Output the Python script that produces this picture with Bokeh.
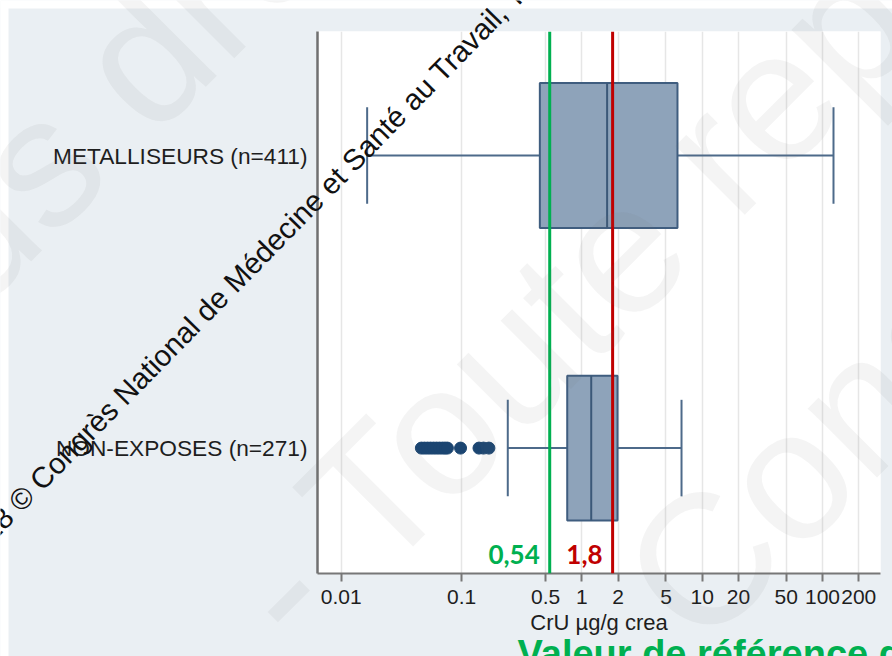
import math
from bokeh.plotting import figure
from bokeh.models import Range1d, FixedTicker, Span, Label, ColumnDataSource, BoxAnnotation
from bokeh.embed import file_html
from bokeh.resources import INLINE

# ---------------- data ----------------
categories = ["METALLISEURS (n=411)", "NON-EXPOSES (n=271)"]
q1 = [0.447, 0.755]
median = [1.62, 1.195]
q3 = [6.23, 1.977]
whisker_low = [0.0164, 0.242]
whisker_high = [123.4, 6.73]
outliers_non_exposes = [0.0463, 0.0491, 0.0521, 0.0552, 0.0585, 0.0619, 0.0655,
                        0.0694, 0.0728, 0.0762, 0.098, 0.1395, 0.152, 0.1686]
reference_values = [0.54, 1.8]
reference_labels = ["0,54", "1,8"]
x_ticks = [0.01, 0.1, 0.5, 1, 2, 5, 10, 20, 50, 100, 200]
x_tick_labels = ["0.01", "0.1", "0.5", "1", "2", "5", "10", "20", "50", "100", "200"]
axis_title = "CrU µg/g crea"
bottom_title = "Valeur de référence de la population générale"
watermark = "2018 © Congrès National de Médecine et Santé au Travail, Tous droits réservés"
big_watermark = ["Tous droits réservés", "- Toute reproduction interdite", "Congrès National"]

W, H = 892, 656
FONT = "Liberation Sans"

# ---------------- main chart ----------------
ypos = [len(categories) - i for i in range(len(categories))]   # 2, 1
box_half = 0.2475
cap_half = 0.165

p = figure(width=W, height=H, x_axis_type="log",
           x_range=Range1d(0.006341, 303.4), y_range=Range1d(0.5714, 2.4238),
           output_backend="svg", toolbar_location=None,
           min_border_left=317, min_border_right=12, min_border_top=31, min_border_bottom=83)
p.background_fill_color = "white"
p.border_fill_color = "#EAEFF3"
p.outline_line_color = None

xa = p.xaxis[0]
xa.ticker = FixedTicker(ticks=x_ticks)
xa.major_label_overrides = {t: l for t, l in zip(x_ticks, x_tick_labels)}
xa.minor_tick_line_color = None
xa.major_tick_in = 0
xa.major_tick_out = 8
xa.major_tick_line_color = "#777777"
xa.major_tick_line_width = 2
xa.axis_line_color = "#777777"
xa.axis_line_width = 2
xa.major_label_text_font = FONT
xa.major_label_text_font_size = "21px"
xa.major_label_text_color = "#1E1E1E"
xa.major_label_standoff = 8
xa.axis_label = axis_title
xa.axis_label_text_font = FONT
xa.axis_label_text_font_style = "normal"
xa.axis_label_text_font_size = "22px"
xa.axis_label_text_color = "#1E1E1E"
xa.axis_label_standoff = 3

ya = p.yaxis[0]
ya.ticker = FixedTicker(ticks=ypos)
ya.major_label_overrides = {y: c for y, c in zip(ypos, categories)}
ya.major_tick_line_color = None
ya.minor_tick_line_color = None
ya.major_tick_out = 0
ya.major_tick_in = 0
ya.axis_line_color = "#707070"
ya.axis_line_width = 2.5
ya.major_label_standoff = 10
ya.major_label_text_font = FONT
ya.major_label_text_font_size = "22.7px"
ya.major_label_text_color = "#1E1E1E"

p.xgrid.grid_line_color = "#E6E6E6"
p.xgrid.grid_line_width = 1.5
p.ygrid.grid_line_color = None

src = ColumnDataSource(dict(
    y=ypos, q1=q1, q3=q3, med=median, wlo=whisker_low, whi=whisker_high,
    ylo=[y - box_half for y in ypos], yhi=[y + box_half for y in ypos],
    clo=[y - cap_half for y in ypos], chi=[y + cap_half for y in ypos],
))

wcol = "#4D6A8A"
p.segment(x0="wlo", x1="q1", y0="y", y1="y", line_color=wcol, line_width=2, source=src)
p.segment(x0="q3", x1="whi", y0="y", y1="y", line_color=wcol, line_width=2, source=src)
p.segment(x0="wlo", x1="wlo", y0="clo", y1="chi", line_color=wcol, line_width=2, source=src)
p.segment(x0="whi", x1="whi", y0="clo", y1="chi", line_color=wcol, line_width=2, source=src)
p.hbar(y="y", height=2 * box_half, left="q1", right="q3", fill_color="#8EA3BA",
       line_color="#3F5D7F", line_width=2, source=src)
p.segment(x0="med", x1="med", y0="ylo", y1="yhi", line_color="#3B5878", line_width=2, source=src)

p.scatter(x=outliers_non_exposes, y=[ypos[1]] * len(outliers_non_exposes), size=12,
          fill_color="#1B4571", line_color="#1B4571")

ref_colors = ["#00B050", "#C00000"]
for v, lab, c in zip(reference_values, reference_labels, ref_colors):
    p.add_layout(Span(location=v, dimension="height", line_color=c, line_width=3))
    p.add_layout(Label(x=v, y=0.6056, x_offset=-10, y_offset=9, text=lab, text_align="right",
                       text_baseline="alphabetic", text_font="Lato", text_font_style="bold",
                       text_font_size="26px", text_color=c))

# ---------------- transparent overlay (page-pixel coordinates) ----------------
ov = figure(width=W, height=H, x_range=Range1d(0, W), y_range=Range1d(H, 0),
            output_backend="svg", toolbar_location=None,
            x_axis_location=None, y_axis_location=None,
            min_border_left=0, min_border_right=0, min_border_top=0, min_border_bottom=0)
ov.xgrid.visible = False
ov.ygrid.visible = False
ov.outline_line_color = None
ov.background_fill_alpha = 0
ov.border_fill_alpha = 0
ov.styles = {"position": "absolute", "top": "0px", "left": "0px", "z-index": "5"}

# white page margin (top and left) around the gray chart background
ov.add_layout(BoxAnnotation(left=0, right=W, top=0, bottom=8, fill_color="white",
                            fill_alpha=1, line_color=None))
ov.add_layout(BoxAnnotation(left=0, right=8, top=0, bottom=H, fill_color="white",
                            fill_alpha=1, line_color=None))

# big faint watermark
big_pos = [(-206, 407), (256, 612), (655, 608)]
for txt, (sx, sy) in zip(big_watermark, big_pos):
    ov.add_layout(Label(x=sx, y=sy, text=txt, angle=math.pi / 4, text_font=FONT,
                        text_font_size="185px", text_baseline="alphabetic",
                        text_color="#6E7378", text_alpha=0.08))

# diagonal copyright line
ov.add_layout(Label(x=-38.3, y=558.5, text=watermark, angle=math.radians(45.6), text_font=FONT,
                    text_font_size="29.5px", text_baseline="alphabetic", text_color="#111111"))

# bottom title, cut by the edge as in the source
ov.add_layout(Label(x=517, y=653, text=bottom_title, text_font=FONT, text_font_style="bold",
                    text_font_size="38px", text_color="#00B050", text_baseline="alphabetic"))

open("out.html", "w").write(file_html([p, ov], INLINE))
